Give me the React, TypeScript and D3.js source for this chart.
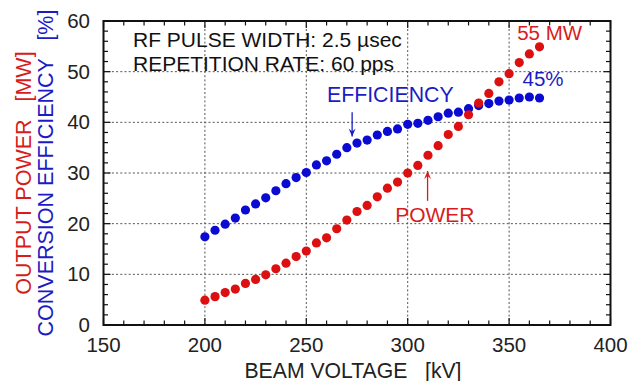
import * as d3 from 'd3'

const voltage = [
  200, 205, 210, 215, 220, 225, 230, 235, 240, 245, 250, 255, 260, 265, 270, 275, 280,
  285, 290, 295, 300, 305, 310, 315, 320, 325, 330, 335, 340, 345, 350, 355, 360, 365
]
const power = [
  4.9, 5.6, 6.4, 7.1, 8.2, 9.0, 9.9, 11.1, 12.2, 13.5, 14.6, 16.2, 17.2, 19.0, 20.7, 22.4, 23.6,
  25.3, 27.0, 28.2, 30.0, 31.5, 33.5, 35.4, 37.6, 39.2, 41.5, 43.8, 45.7, 48.0, 49.6, 51.8, 53.5, 54.9
]
const efficiency = [
  17.4, 18.7, 19.9, 21.1, 22.7, 23.9, 25.1, 26.5, 27.9, 29.1, 30.1, 31.6, 32.4, 33.7, 35.0, 35.9, 36.5,
  37.5, 38.2, 38.7, 39.6, 39.8, 40.4, 41.1, 41.8, 42.0, 42.7, 43.3, 43.7, 44.2, 44.4, 44.8, 45.0, 44.8
]
const xTicks = [150, 200, 250, 300, 350, 400]
const yTicks = [0, 10, 20, 30, 40, 50, 60]

const RED = '#dc1010'
const BLUE = '#0a0ad2'
const RED_TXT = '#d81c1c'
const BLUE_TXT = '#1c1cc4'
const FONT = 'Liberation Sans, Arial, Helvetica, sans-serif'

export default function App() {
  const width = 631
  const height = 381
  const x = d3.scaleLinear().domain([150, 400]).range([103.5, 610.5])
  const y = d3.scaleLinear().domain([0, 60]).range([325, 21])
  const [x0, x1] = x.range()
  const [y0, y1] = y.range()

  const xMinor = d3.range(150, 401, 10)
  const yMinor = d3.range(0, 61, 2)

  // annotation arrows (data units)
  const effArrow = { v: 272.6, from: 42.0, to: 37.2 }
  const powArrow = { v: 309.8, from: 24.5, to: 30.4 }

  return (
    <div style={{ position: 'absolute', left: 0, top: 0 }}>
      <svg width={width} height={height} style={{ display: 'block', background: '#fff' }}>
        {/* grid */}
        {xTicks.slice(1, -1).map(t => (
          <line key={'gx' + t} x1={x(t)} x2={x(t)} y1={y0} y2={y1}
            stroke="#555" strokeWidth={1} strokeDasharray="2,2.2" />
        ))}
        {yTicks.slice(1, -1).map(t => (
          <line key={'gy' + t} x1={x0} x2={x1} y1={y(t)} y2={y(t)}
            stroke="#555" strokeWidth={1} strokeDasharray="2,2.2" />
        ))}

        {/* minor / major ticks, inward on all sides */}
        {xMinor.map(t => {
          const len = t % 50 === 0 ? 7 : 4.5
          return (
            <g key={'tx' + t} stroke="#111" strokeWidth={1.2}>
              <line x1={x(t)} x2={x(t)} y1={y0} y2={y0 - len} />
              <line x1={x(t)} x2={x(t)} y1={y1} y2={y1 + len} />
            </g>
          )
        })}
        {yMinor.map(t => {
          const len = t % 10 === 0 ? 7 : 4.5
          return (
            <g key={'ty' + t} stroke="#111" strokeWidth={1.2}>
              <line x1={x0} x2={x0 + len} y1={y(t)} y2={y(t)} />
              <line x1={x1} x2={x1 - len} y1={y(t)} y2={y(t)} />
            </g>
          )
        })}

        {/* frame */}
        <rect x={x0} y={y1} width={x1 - x0} height={y0 - y1} fill="none" stroke="#111" strokeWidth={2} />

        {/* tick labels */}
        {xTicks.map(t => (
          <text key={'lx' + t} x={x(t)} y={352} textAnchor="middle"
            fontFamily={FONT} fontSize={20.5} fill="#222">{t}</text>
        ))}
        {yTicks.map(t => (
          <text key={'ly' + t} x={90} y={y(t) + 7} textAnchor="end"
            fontFamily={FONT} fontSize={20.5} fill="#222">{t}</text>
        ))}

        {/* axis titles */}
        <text x={353} y={378} textAnchor="middle" fontFamily={FONT} fontSize={21.2} fill="#222"
          style={{ whiteSpace: 'pre' }}>{'BEAM VOLTAGE   [kV]'}</text>
        <text transform={`translate(31,${(y0 + y1) / 2}) rotate(-90)`} textAnchor="middle"
          fontFamily={FONT} fontSize={21.5} fill={RED_TXT} style={{ whiteSpace: 'pre' }}>
          {'OUTPUT POWER   [MW]'}
        </text>
        <text transform={`translate(53,${(y0 + y1) / 2}) rotate(-90)`} textAnchor="middle"
          fontFamily={FONT} fontSize={21.5} fill={BLUE_TXT} style={{ whiteSpace: 'pre' }}>
          {'CONVERSION EFFICIENCY   [%]'}
        </text>

        {/* conditions */}
        <text x={133} y={47} fontFamily={FONT} fontSize={21} fill="#111">RF PULSE WIDTH: 2.5 µsec</text>
        <text x={133} y={71} fontFamily={FONT} fontSize={21} fill="#111">REPETITION RATE: 60 pps</text>

        {/* data */}
        {voltage.map((v, i) => (
          <circle key={'e' + v} cx={x(v)} cy={y(efficiency[i])} r={4.6} fill={BLUE} />
        ))}
        {voltage.map((v, i) => (
          <circle key={'p' + v} cx={x(v)} cy={y(power[i])} r={4.6} fill={RED} />
        ))}

        {/* annotations */}
        <text x={x(260.2)} y={y(44.0)} fontFamily={FONT} fontSize={21.3} fill={BLUE_TXT}>EFFICIENCY</text>
        <line x1={x(effArrow.v)} x2={x(effArrow.v)} y1={y(effArrow.from)} y2={y(effArrow.to)}
          stroke={BLUE_TXT} strokeWidth={1.3} />
        <path d={`M${x(effArrow.v) - 3.5},${y(effArrow.to) - 8} L${x(effArrow.v)},${y(effArrow.to)} L${x(effArrow.v) + 3.5},${y(effArrow.to) - 8} L${x(effArrow.v)},${y(effArrow.to) - 5}Z`}
          fill={BLUE_TXT} />

        <text x={x(293.8)} y={y(20.3)} fontFamily={FONT} fontSize={21} fill={RED_TXT}>POWER</text>
        <line x1={x(powArrow.v)} x2={x(powArrow.v)} y1={y(powArrow.from)} y2={y(powArrow.to)}
          stroke={RED_TXT} strokeWidth={1.3} />
        <path d={`M${x(powArrow.v) - 3.5},${y(powArrow.to) + 8} L${x(powArrow.v)},${y(powArrow.to)} L${x(powArrow.v) + 3.5},${y(powArrow.to) + 8} L${x(powArrow.v)},${y(powArrow.to) + 5}Z`}
          fill={RED_TXT} />

        <text x={x(354)} y={y(56.2)} fontFamily={FONT} fontSize={20.5} fill={RED_TXT}>55 MW</text>
        <text x={x(356.6)} y={y(47.1)} fontFamily={FONT} fontSize={20.5} fill={BLUE_TXT}>45%</text>
      </svg>
    </div>
  )
}
